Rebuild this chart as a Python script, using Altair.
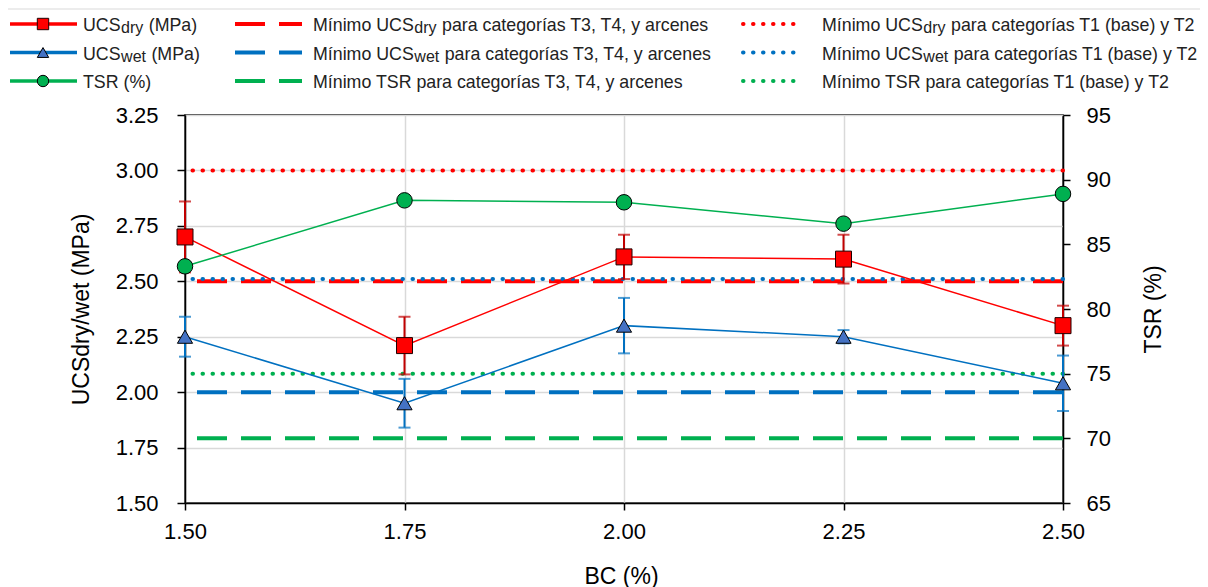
import altair as alt
import pandas as pd

# ---------------- data ----------------
bc = [1.50, 1.75, 2.00, 2.25, 2.50]
ucs_dry = [2.70, 2.21, 2.61, 2.60, 2.30]
ucs_dry_err = [0.16, 0.13, 0.10, 0.11, 0.09]
ucs_wet = [2.25, 1.95, 2.30, 2.25, 2.04]
ucs_wet_err = [0.09, 0.11, 0.125, 0.03, 0.125]
tsr = [83.3, 88.4, 88.25, 86.6, 88.9]

min_ucs_dry_t34 = 2.50
min_ucs_wet_t34 = 2.00
min_tsr_t34 = 70
min_ucs_dry_t12 = 3.00
min_ucs_wet_t12 = 2.51
min_tsr_t12 = 75

x_ticks = [1.50, 1.75, 2.00, 2.25, 2.50]
left_ticks = [1.50, 1.75, 2.00, 2.25, 2.50, 2.75, 3.00, 3.25]
right_ticks = [65, 70, 75, 80, 85, 90, 95]

df = pd.DataFrame({
    "bc": bc,
    "ucs_dry": ucs_dry,
    "dry_lo": [v - e for v, e in zip(ucs_dry, ucs_dry_err)],
    "dry_hi": [v + e for v, e in zip(ucs_dry, ucs_dry_err)],
    "ucs_wet": ucs_wet,
    "wet_lo": [v - e for v, e in zip(ucs_wet, ucs_wet_err)],
    "wet_hi": [v + e for v, e in zip(ucs_wet, ucs_wet_err)],
    "tsr": tsr,
})

# ---------------- styling ----------------
FONT = "Liberation Sans"
RED, BLUE, GREEN = "#FF0000", "#0070C0", "#00B050"
RED_ERR = "#C00000"
GRID = "#d9d9d9"
W, H = 878, 388
PAD_L, PAD_T = 177, 107
DASH = [30, 14]
DOT = [0.5, 9.5]

sL = alt.Scale(domain=[1.5, 3.25], nice=False, zero=False)
sR = alt.Scale(domain=[65, 95], nice=False, zero=False)

common_axis = dict(labelFontSize=22, titleFontSize=23, titleFontWeight="normal",
                   labelColor="black", titleColor="black", domainColor="black",
                   domainWidth=1.5, tickColor="black", tickWidth=1.5,
                   labelFlush=False, labelOverlap=False, labelFont=FONT, titleFont=FONT)

x_axis = alt.Axis(values=x_ticks, format=".2f", title="BC (%)", grid=True,
                  gridColor=GRID, gridWidth=1.5, tickSize=7, labelPadding=11,
                  titleX=436, titleY=80, titleBaseline="alphabetic", titleAlign="center",
                  **common_axis)
left_axis = alt.Axis(values=left_ticks, format=".2f", title="UCSdry/wet (MPa)", grid=True,
                     gridColor=GRID, gridWidth=1.5, tickSize=8, labelPadding=19,
                     titleAngle=270, titleX=-97, titleY=H / 2, titleBaseline="alphabetic",
                     titleAlign="center", orient="left", **common_axis)
right_axis = alt.Axis(values=right_ticks, format="d", title="TSR (%)", grid=False,
                      tickSize=7, labelPadding=16, titleAngle=270, titleX=97, titleY=H / 2,
                      titleBaseline="alphabetic", titleAlign="center", orient="right",
                      **common_axis)

X = alt.X("bc:Q", scale=alt.Scale(domain=[1.5, 2.5], nice=False, zero=False), axis=x_axis)

base = alt.Chart(df)
layers = []


def ref_line(value, scale, color, dash):
    return alt.Chart(pd.DataFrame({"v": [value]})).mark_rule(
        color=color, strokeWidth=4, strokeDash=dash, strokeCap="butt" if dash == DASH else "round"
    ).encode(y=alt.Y("v:Q", scale=scale, axis=None))


# reference lines
layers += [
    ref_line(min_tsr_t34, sR, GREEN, DASH),
    ref_line(min_tsr_t12, sR, GREEN, DOT),
    ref_line(min_ucs_wet_t34, sL, BLUE, DASH),
    ref_line(min_ucs_dry_t34, sL, RED, DASH),
    ref_line(min_ucs_wet_t12, sL, BLUE, DOT),
    ref_line(min_ucs_dry_t12, sL, RED, DOT),
]

# data lines
layers.append(base.mark_line(color=RED, strokeWidth=1.5).encode(
    x=X, y=alt.Y("ucs_dry:Q", scale=sL, axis=left_axis)))
layers.append(base.mark_line(color=BLUE, strokeWidth=1.5).encode(
    x=X, y=alt.Y("ucs_wet:Q", scale=sL, axis=None)))
layers.append(base.mark_line(color=GREEN, strokeWidth=1.5).encode(
    x=X, y=alt.Y("tsr:Q", scale=sR, axis=right_axis)))

# error bars
for lo, hi, col in [("dry_lo", "dry_hi", RED_ERR), ("wet_lo", "wet_hi", BLUE)]:
    layers.append(base.mark_rule(color=col, strokeWidth=2).encode(
        x=X, y=alt.Y(f"{lo}:Q", scale=sL, axis=None), y2=f"{hi}:Q"))
    for f in (lo, hi):
        layers.append(base.mark_tick(color=col, orient="horizontal", size=12, thickness=2).encode(
            x=X, y=alt.Y(f"{f}:Q", scale=sL, axis=None)))

# markers
layers.append(base.mark_point(shape="square", filled=True, fill=RED, stroke="#200000",
                              strokeWidth=1, size=256, opacity=1).encode(
    x=X, y=alt.Y("ucs_dry:Q", scale=sL, axis=None)))
layers.append(base.mark_point(shape="triangle-up", filled=True, fill="#4472C4", stroke="black",
                              strokeWidth=1, size=230, opacity=1).encode(
    x=X, y=alt.Y("ucs_wet:Q", scale=sL, axis=None)))
layers.append(base.mark_point(shape="circle", filled=True, fill=GREEN, stroke="black",
                              strokeWidth=1, size=240, opacity=1).encode(
    x=X, y=alt.Y("tsr:Q", scale=sR, axis=None)))

# ---------------- custom legend (pixel layout, relative to plot origin) ----------------
one = pd.DataFrame({"a": [0]})
LEG_FS = 17.8
SUB_FS = 16
SPACE = 0.278 * LEG_FS
ADV = {"UCS": 2.111 * LEG_FS, "Mínimo UCS": 5.667 * LEG_FS,
       "dry": 1.389 * SUB_FS + 1, "wet": 1.556 * SUB_FS + 1}

rows_line_y = [24, 52.5, 81]
rows_base_y = [30.5, 59.5, 87.5]


def px(x):
    return x - PAD_L - 8


def py(y):
    return y - PAD_T - 8


def leg_text(x, y, s, size=LEG_FS):
    return alt.Chart(one).mark_text(text=s, align="left", baseline="alphabetic",
                                    fontSize=size, font=FONT, color="#222222").encode(
        x=alt.value(px(x)), y=alt.value(py(y)))


def leg_label(x, row, prefix, sub, suffix):
    yb = rows_base_y[row]
    out = [leg_text(x, yb, prefix)]
    if sub:
        xs = x + ADV[prefix]
        out.append(leg_text(xs + 0.5, yb + 2, sub, SUB_FS))
        out.append(leg_text(xs + ADV[sub] + SPACE, yb, suffix))
    return out


def leg_line(x0, x1, row, color, width, dash=None):
    kw = dict(color=color, strokeWidth=width)
    if dash is not None:
        kw["strokeDash"] = dash
        kw["strokeCap"] = "round" if dash == DOT else "butt"
    y = rows_line_y[row]
    return alt.Chart(one).mark_rule(**kw).encode(
        x=alt.value(px(x0)), x2=alt.value(px(x1)), y=alt.value(py(y)))


def leg_marker(x, row, shape, fill, stroke, size):
    return alt.Chart(one).mark_point(shape=shape, filled=True, fill=fill, stroke=stroke,
                                     strokeWidth=1, size=size, opacity=1).encode(
        x=alt.value(px(x)), y=alt.value(py(rows_line_y[row])))


leg = []
# thin border line at the top of the chart area
leg.append(alt.Chart(one).mark_rule(color=GRID, strokeWidth=1).encode(
    x=alt.value(px(8)), x2=alt.value(px(1208)), y=alt.value(py(9))))

# column 1
for row, (col, shape, fill, stroke, size) in enumerate([
        (RED, "square", RED, "#200000", 130),
        (BLUE, "triangle-up", "#4472C4", "black", 130),
        (GREEN, "circle", GREEN, "black", 130)]):
    leg.append(leg_line(10, 77, row, col, 3.5))
    leg.append(leg_marker(43, row, shape, fill, stroke, size))
leg += leg_label(83, 0, "UCS", "dry", "(MPa)")
leg += leg_label(83, 1, "UCS", "wet", "(MPa)")
leg.append(leg_text(83, rows_base_y[2], "TSR (%)"))

# column 2 (dashed)
for row, col in enumerate([RED, BLUE, GREEN]):
    leg.append(leg_line(235, 302, row, col, 4, DASH))
leg += leg_label(313, 0, "Mínimo UCS", "dry", "para categorías T3, T4, y arcenes")
leg += leg_label(313, 1, "Mínimo UCS", "wet", "para categorías T3, T4, y arcenes")
leg.append(leg_text(313, rows_base_y[2], "Mínimo TSR para categorías T3, T4, y arcenes"))

# column 3 (dotted)
for row, col in enumerate([RED, BLUE, GREEN]):
    leg.append(leg_line(743, 803, row, col, 4, DOT))
leg += leg_label(822, 0, "Mínimo UCS", "dry", "para categorías T1 (base) y T2")
leg += leg_label(822, 1, "Mínimo UCS", "wet", "para categorías T1 (base) y T2")
leg.append(leg_text(822, rows_base_y[2], "Mínimo TSR para categorías T1 (base) y T2"))

chart = alt.layer(*layers, *leg).resolve_scale(y="independent").properties(
    width=W, height=H,
    padding={"left": PAD_L, "top": PAD_T, "right": 137, "bottom": 84},
    autosize=alt.AutoSizeParams(type="none"),
).configure(font=FONT).configure_view(stroke="black", strokeWidth=1.5)

chart.save("out.html", embed_options={"renderer": "svg", "actions": False})
